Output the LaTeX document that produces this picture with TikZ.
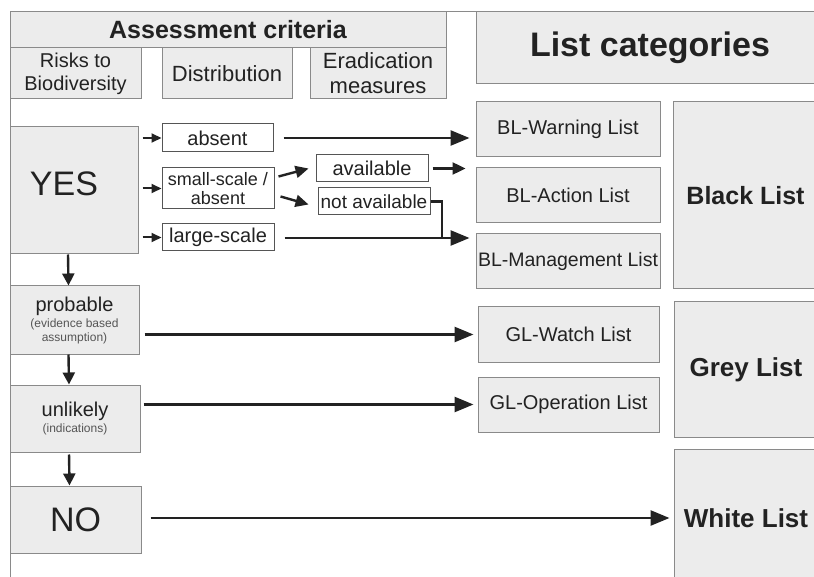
\documentclass[tikz,border=0pt]{standalone}
\usepackage{fontspec}
\setmainfont{Liberation Sans}
\usetikzlibrary{arrows.meta,calc}
\definecolor{boxfill}{HTML}{ECECEC}
\definecolor{boxline}{HTML}{8A8A8A}
\definecolor{wline}{HTML}{555555}
\definecolor{textc}{HTML}{222222}
\definecolor{subc}{HTML}{555555}
\definecolor{arrc}{HTML}{222222}
\newcommand{\fsz}[1]{\fontsize{#1}{#1}\selectfont}
\begin{document}
\begin{tikzpicture}[x=1pt,y=-1pt,
  gbox/.style={draw=boxline, fill=boxfill, line width=1pt, inner sep=0pt, text=textc, align=center},
  wbox/.style={draw=wline, fill=white, line width=1pt, inner sep=0pt, text=textc, align=center},
  bigarr/.style={draw=arrc, line width=2.6pt, -{Triangle[length=19pt,width=15pt]}},
  midarr/.style={draw=arrc, line width=2.4pt, -{Triangle[length=13pt,width=12pt]}},
  smallarr/.style={draw=arrc, line width=2pt, -{Triangle[length=10pt,width=9pt]}},
  downarr/.style={draw=arrc, line width=2.4pt, -{Triangle[length=12pt,width=12pt]}},
  frame/.style={draw=boxline, line width=1pt}]
\useasboundingbox (0,0) rectangle (814,577);
\fill[white] (0,0) rectangle (814,577);

% frame lines
\coordinate (ftl) at (10,12);
\coordinate (fbl) at (10,577);
\coordinate (ftr) at (476,12);
\draw[frame] (fbl) -- (ftl) -- (ftr);

% header boxes
\node[gbox, minimum width=436pt, minimum height=36pt, font=\fsz{25}\bfseries] (crit) at (228,30) {Assessment criteria};
\node[gbox, minimum width=131pt, minimum height=51pt, font=\fontsize{20}{23}\selectfont] (risk) at (75.5,73.5) {Risks to\\Biodiversity};
\node[gbox, minimum width=130pt, minimum height=51pt, font=\fsz{22}] (dist) at (227,73.5) {Distribution};
\node[gbox, minimum width=136pt, minimum height=51pt, font=\fontsize{22}{25}\selectfont] (erad) at (378,73.5) {Eradication\\measures};
\node[gbox, minimum width=348pt, minimum height=72pt, font=\fsz{34}\bfseries] (lcat) at (650,48) {List categories};

% left column
\node[gbox, minimum width=128pt, minimum height=127pt] (yes) at (74,190.5) {};
\node[text=textc, inner sep=0pt, font=\fsz{34}] (yestxt) at (64,184) {YES};
\node[gbox, minimum width=129pt, minimum height=68pt, font=\fontsize{12}{13.5}\selectfont] (prob) at (74.5,320) {{\fsz{20}probable}\\[3pt]{\color{subc}(evidence based}\\{\color{subc}assumption)}};
\node[gbox, minimum width=130pt, minimum height=67pt, font=\fontsize{12}{13.5}\selectfont] (unl) at (75,418.5) {{\fsz{20}unlikely}\\[3pt]{\color{subc}(indications)}};
\node[gbox, minimum width=131pt, minimum height=67pt, font=\fsz{34}] (no) at (75.5,519.5) {NO};

% distribution boxes
\node[wbox, minimum width=111pt, minimum height=28pt, font=\fsz{20}] (absent) at (217.5,138) {absent};
\node[wbox, minimum width=112pt, minimum height=41pt, font=\fontsize{18}{19.5}\selectfont] (small) at (218,188.5) {small-scale /\\absent};
\node[wbox, minimum width=112pt, minimum height=27pt, font=\fsz{20}] (large) at (218,237.5) {large-scale};

% eradication boxes
\node[wbox, minimum width=112pt, minimum height=27pt, font=\fsz{20}] (avail) at (372,168.5) {available};
\node[wbox, minimum width=112pt, minimum height=27pt, font=\fsz{19}] (navail) at (374,201.5) {not available};

% list boxes
\node[gbox, minimum width=184pt, minimum height=55pt, font=\fsz{20}] (blw) at (568,129.5) {BL-Warning List};
\node[gbox, minimum width=184pt, minimum height=55pt, font=\fsz{20}] (bla) at (568,195.5) {BL-Action List};
\node[gbox, minimum width=184pt, minimum height=55pt, font=\fsz{19.5}] (blm) at (568,261.5) {BL-Management List};
\node[gbox, minimum width=145pt, minimum height=187pt, font=\fsz{25}\bfseries] (black) at (745.5,195.5) {Black List};
\node[gbox, minimum width=181pt, minimum height=55pt, font=\fsz{20}] (glw) at (568.5,334.5) {GL-Watch List};
\node[gbox, minimum width=181pt, minimum height=55pt, font=\fsz{20}] (glo) at (568.5,404.5) {GL-Operation List};
\node[gbox, minimum width=144pt, minimum height=135pt, font=\fsz{26}\bfseries] (grey) at (746,369.5) {Grey List};
\node[gbox, minimum width=144pt, minimum height=138pt, font=\fsz{26}\bfseries] (white) at (746,518) {White List};

% arrows YES -> distribution
\draw[smallarr, shorten <=4pt] (yes.east |- absent.west) -- (absent.west);
\draw[smallarr, shorten <=4pt] (yes.east |- small.west) -- (small.west);
\draw[smallarr, shorten <=4pt] (yes.east |- large.west) -- (large.west);

% distribution -> lists / eradication
\draw[bigarr, shorten <=10pt, shorten >=6pt] (absent.east) -- (absent.east -| blw.west);
\draw[midarr] ($(small.east)+(4,-12)$) -- ($(avail.west)+(-7,0)$);
\draw[midarr] ($(small.east)+(6,8)$) -- ($(navail.west)+(-9,3)$);
\draw[midarr, shorten <=4pt, shorten >=10pt] (avail.east) -- (avail.east -| bla.west);
\coordinate (join) at (442,238);
\draw[draw=arrc, line width=2.4pt] (navail.east) -| (join);
\draw[bigarr, shorten <=10pt, shorten >=6pt] ($(large.east)+(0,0.5)$) -- ($(large.east -| blm.west)+(0,0.5)$);

% risk level arrows
\draw[bigarr, shorten <=5pt, shorten >=4pt] (prob.east |- glw.west) -- (glw.west);
\draw[bigarr, shorten <=3pt, shorten >=4pt] (unl.east |- glo.west) -- (glo.west);
\draw[bigarr, shorten <=9pt, shorten >=4pt] (no.east |- white.west) -- (white.west);

% down arrows
\draw[downarr] ([xshift=-6pt]yes.south) -- ([xshift=-6pt]prob.north);
\draw[downarr] ([xshift=-6pt]prob.south) -- ([xshift=-6pt]unl.north);
\draw[downarr, shorten <=2pt] ([xshift=-6pt]unl.south) -- ([xshift=-6pt]no.north);
\end{tikzpicture}
\end{document}
